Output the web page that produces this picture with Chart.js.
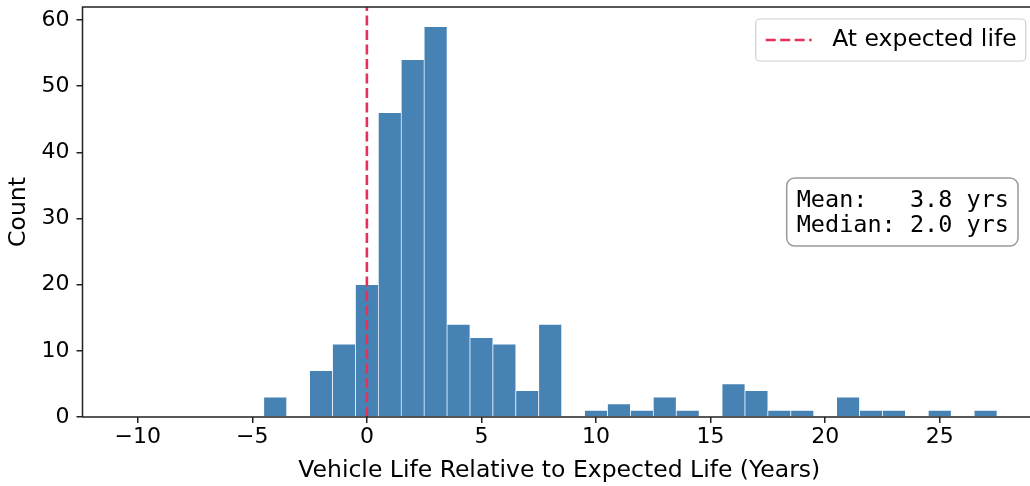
<!DOCTYPE html>
<html lang="en">
<head>
    <meta charset="UTF-8">
    <title>Vehicle life histogram</title>
    <script src="https://cdn.jsdelivr.net/npm/chart.js"></script>
    <style>
        html, body { margin: 0; padding: 0; overflow: hidden; background: #fff; }
        #grafico { display: block; }
    </style>
</head>
<body>
    <canvas id="grafico" width="1040" height="486"></canvas>
</body>
</html>
<script>
    // histogram bins (centre of each 1-year bin) and counts
    var binCentres = [-4, -2, -1, 0, 1, 2, 3, 4, 5, 6, 7, 8, 10, 11, 12, 13, 14, 16, 17, 18, 19, 21, 22, 23, 25, 27];
    var counts = [3, 7, 11, 20, 46, 54, 59, 14, 12, 11, 4, 14, 1, 2, 1, 3, 1, 5, 4, 1, 1, 3, 1, 1, 1, 1];

    var xTicks = [-10, -5, 0, 5, 10, 15, 20, 25];
    var yTicks = [0, 10, 20, 30, 40, 50, 60];

    var expectedLife = 0;
    var meanYears = 3.8;
    var medianYears = 2.0;

    var xLimits = [-12.41, 29.2];
    var yLimits = [0, 61.95];

    var corBarra = '#4682b4';
    var corLinha = '#e8315a';
    var fonte = 'DejaVu Sans';

    function fmtTick(v) {
        return v < 0 ? '\u2212' + Math.abs(v) : String(v);
    }

    // spines drawn over the bars, plus legend and stats box
    var extras = {
        id: 'extras',
        afterDatasetsDraw: function (chart) {
            var ctx = chart.ctx;
            var a = chart.chartArea;
            ctx.save();
            ctx.strokeStyle = '#222';
            ctx.lineWidth = 1.5;
            ctx.beginPath();
            ctx.moveTo(a.left, a.bottom);
            ctx.lineTo(a.right, a.bottom);
            ctx.moveTo(a.left, a.bottom);
            ctx.lineTo(a.left, a.top);
            ctx.lineTo(a.right, a.top);
            ctx.stroke();
            ctx.restore();
        },
        afterDraw: function (chart) {
            var ctx = chart.ctx;
            var a = chart.chartArea;
            ctx.save();

            // legend
            var lx = a.right - 280.3, ly = a.top + 12, lw = 270, lh = 42;
            ctx.beginPath();
            ctx.roundRect(lx, ly, lw, lh, 4);
            ctx.fillStyle = 'rgba(255,255,255,0.8)';
            ctx.fill();
            ctx.strokeStyle = '#d0d0d0';
            ctx.lineWidth = 1.2;
            ctx.stroke();

            ctx.beginPath();
            ctx.setLineDash([10, 4.5]);
            ctx.strokeStyle = corLinha;
            ctx.lineWidth = 2.6;
            ctx.moveTo(lx + 10, ly + 21);
            ctx.lineTo(lx + 56, ly + 21);
            ctx.stroke();
            ctx.setLineDash([]);

            ctx.fillStyle = '#000';
            ctx.font = '23.5px "' + fonte + '"';
            ctx.textBaseline = 'middle';
            ctx.textAlign = 'left';
            ctx.fillText(chart.data.datasets[1].label, lx + 76.5, ly + 21);

            // mean / median box
            var bx = a.right - 249.3, by = 178, bw = 231.3, bh = 68;
            ctx.beginPath();
            ctx.roundRect(bx, by, bw, bh, 8);
            ctx.fillStyle = 'rgba(255,255,255,0.9)';
            ctx.fill();
            ctx.strokeStyle = '#9a9a9a';
            ctx.lineWidth = 1.5;
            ctx.stroke();

            ctx.fillStyle = '#000';
            ctx.font = '23.5px "DejaVu Sans Mono"';
            ctx.textBaseline = 'alphabetic';
            ctx.fillText('Mean:   ' + meanYears.toFixed(1) + ' yrs', bx + 10, by + 28.5);
            ctx.fillText('Median: ' + medianYears.toFixed(1) + ' yrs', bx + 10, by + 54.3);

            ctx.restore();
        }
    };

    var pontos = [];
    for (var i = 0; i < binCentres.length; i++) {
        pontos.push({ x: binCentres[i], y: counts[i] });
    }

    var config = {
        type: 'bar',
        data: {
            datasets: [{
                type: 'bar',
                label: 'Count',
                data: pontos,
                backgroundColor: corBarra,
                borderColor: '#ffffff',
                borderWidth: 0.7,
                barPercentage: 1,
                categoryPercentage: 1,
                order: 2
            }, {
                type: 'line',
                label: 'At expected life',
                data: [{ x: expectedLife, y: yLimits[0] }, { x: expectedLife, y: yLimits[1] }],
                borderColor: corLinha,
                borderWidth: 2.6,
                borderDash: [10, 4.5],
                pointRadius: 0,
                fill: false,
                order: 1
            }]
        },
        options: {
            responsive: false,
            animation: false,
            layout: { padding: { top: 7, right: 4, left: 0, bottom: 0 } },
            plugins: {
                legend: { display: false },
                tooltip: { enabled: false }
            },
            scales: {
                x: {
                    type: 'linear',
                    min: xLimits[0],
                    max: xLimits[1],
                    offset: false,
                    grid: { display: true, offset: false, drawOnChartArea: false, tickLength: 6, color: '#222', lineWidth: 1.5 },
                    border: { display: false },
                    afterBuildTicks: function (s) { s.ticks = xTicks.map(function (v) { return { value: v }; }); },
                    ticks: {
                        padding: 1,
                        color: '#000',
                        maxRotation: 0,
                        autoSkip: false,
                        font: { family: fonte, size: 22 },
                        callback: fmtTick
                    },
                    title: {
                        display: true,
                        text: 'Vehicle Life Relative to Expected Life (Years)',
                        color: '#000',
                        font: { family: fonte, size: 23.5 },
                        padding: { top: 0, bottom: 1 }
                    },
                    afterFit: function (s) {
                        s.height = 69;
                        s.paddingLeft = 0;
                        s.paddingRight = 0;
                    }
                },
                y: {
                    min: yLimits[0],
                    max: yLimits[1],
                    grid: { display: true, drawOnChartArea: false, tickLength: 6, color: '#222', lineWidth: 1.5 },
                    border: { display: false },
                    afterBuildTicks: function (s) { s.ticks = yTicks.map(function (v) { return { value: v }; }); },
                    ticks: {
                        padding: 7,
                        color: '#000',
                        autoSkip: false,
                        font: { family: fonte, size: 22 },
                        callback: fmtTick
                    },
                    title: {
                        display: true,
                        text: 'Count',
                        color: '#000',
                        font: { family: fonte, size: 23.5 },
                        padding: { top: 5, bottom: 0 }
                    },
                    afterFit: function (s) {
                        s.width = 82.5;
                        s.paddingTop = 0;
                        s.paddingBottom = 0;
                    }
                }
            }
        },
        plugins: [extras]
    };

    var ctx = document.getElementById('grafico').getContext('2d');
    var myChart = new Chart(ctx, config);
</script>
